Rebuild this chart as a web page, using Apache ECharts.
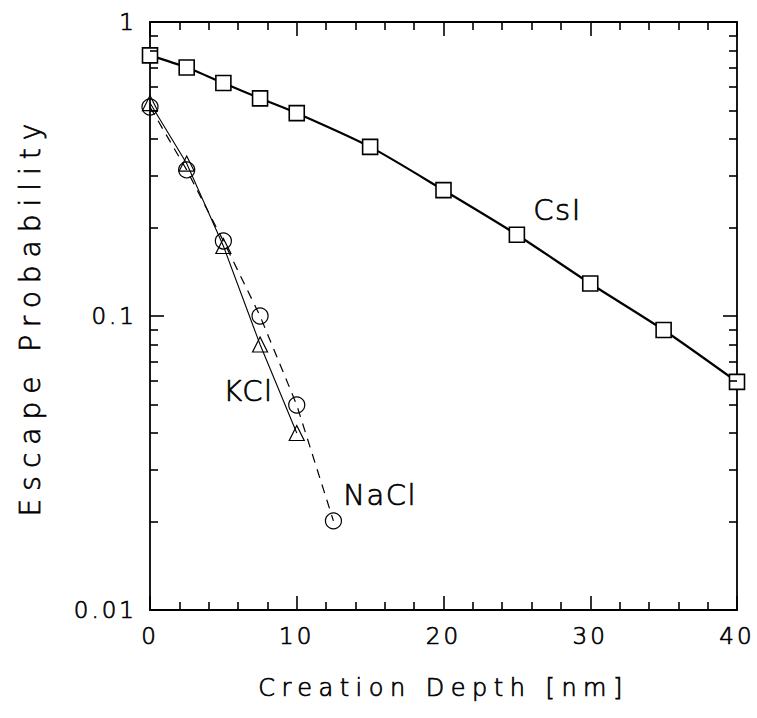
<!DOCTYPE html>
<html><head><meta charset="utf-8">
<script src="https://cdn.jsdelivr.net/npm/echarts@6/dist/echarts.min.js"></script>
<style>html,body{margin:0;padding:0;background:#fff}#c{width:757px;height:718px}</style>
</head><body><div id="c"></div>
<script>
const depthCsI = [0, 2.5, 5, 7.5, 10, 15, 20, 25, 30, 35, 40];
const probCsI = [0.77, 0.70, 0.62, 0.55, 0.49, 0.376, 0.268, 0.189, 0.129, 0.0896, 0.0597];
const depthKCl = [0, 2.5, 5, 7.5, 10];
const probKCl = [0.53, 0.33, 0.173, 0.080, 0.040];
const depthNaCl = [0, 2.5, 5, 7.5, 10, 12.5];
const probNaCl = [0.514, 0.314, 0.18, 0.10, 0.0498, 0.0201];
const xMajorTicks = [0, 10, 20, 30, 40];
const xMinorTicks = [2, 4, 6, 8, 12, 14, 16, 18, 22, 24, 26, 28, 32, 34, 36, 38];
const yMajorTicks = [0.01, 0.1, 1];
const yMinorTicks = [0.02,0.03,0.04,0.05,0.06,0.07,0.08,0.09,0.2,0.3,0.4,0.5,0.6,0.7,0.8,0.9];

const W = 757, H = 718;
const GRID = {left: 150, right: 20, top: 22, bottom: 108};
const X_MIN = 0, X_MAX = 40, Y_MIN = 0.01, Y_MAX = 1;
const pxPerX = (W - GRID.left - GRID.right) / (X_MAX - X_MIN);
const pxPerDecade = (H - GRID.top - GRID.bottom) / Math.log10(Y_MAX / Y_MIN);
const MAJOR = 14, MINOR = 8;

const FONT = 'DejaVu Sans';
const FW = 200;
const TB = {textBorderColor: '#000', textBorderWidth: 0.7};
const zip = (a, b) => a.map((v, i) => [v, b[i]]);

// tick segments in data space (lengths converted from pixels through the axis scales)
function tickSegs() {
  const segs = [];
  const addX = (vals, len) => vals.forEach(x => {
    const f = Math.pow(10, len / pxPerDecade);
    segs.push({coords: [[x, Y_MIN], [x, Y_MIN * f]]});
    segs.push({coords: [[x, Y_MAX], [x, Y_MAX / f]]});
  });
  const addY = (vals, len) => vals.forEach(v => {
    const d = len / pxPerX;
    segs.push({coords: [[X_MIN, v], [X_MIN + d, v]]});
    segs.push({coords: [[X_MAX, v], [X_MAX - d, v]]});
  });
  addX(xMajorTicks, MAJOR); addX(xMinorTicks, MINOR);
  addY(yMajorTicks, MAJOR); addY(yMinorTicks, MINOR);
  return segs;
}

const chart = echarts.init(document.getElementById('c'), null, {renderer: 'svg'});
const axisLine = {show: true, onZero: false, lineStyle: {color: '#000', width: 1.8}};

chart.setOption({
  animation: false,
  grid: Object.assign({outerBoundsMode: 'none'}, GRID),
  xAxis: [{
    type: 'value', min: X_MIN, max: X_MAX, interval: 10,
    axisLine, axisTick: {show: false}, splitLine: {show: false},
    axisLabel: Object.assign({color: '#000', fontSize: 23, fontWeight: FW, fontFamily: FONT, margin: 14}, TB),
    name: 'Creation Depth [nm]', nameLocation: 'middle', nameGap: 66,
    nameTextStyle: Object.assign({color: '#000', fontSize: 24, fontWeight: FW, fontFamily: FONT}, TB)
  }, {
    type: 'value', min: X_MIN, max: X_MAX, interval: 10, position: 'top',
    axisLine, axisTick: {show: false}, splitLine: {show: false}, axisLabel: {show: false}
  }],
  yAxis: [{
    type: 'log', min: Y_MIN, max: Y_MAX, logBase: 10,
    axisLine, axisTick: {show: false}, splitLine: {show: false},
    axisLabel: Object.assign({color: '#000', fontSize: 23, fontWeight: FW, fontFamily: FONT, margin: 13,
      formatter: v => v >= 1 ? '1' : (v >= 0.1 ? '0.1' : '0.01')}, TB),
    name: 'Escape Probability', nameLocation: 'middle', nameGap: 106,
    nameTextStyle: Object.assign({color: '#000', fontSize: 28, fontWeight: FW, fontFamily: FONT}, TB)
  }, {
    type: 'log', min: Y_MIN, max: Y_MAX, logBase: 10, position: 'right',
    axisLine, axisTick: {show: false}, splitLine: {show: false}, axisLabel: {show: false}
  }],
  series: [{
    type: 'lines', coordinateSystem: 'cartesian2d', xAxisIndex: 0, yAxisIndex: 0,
    silent: true, z: 10, polyline: false, clip: false,
    lineStyle: {color: '#000', width: 1.6, opacity: 1},
    data: tickSegs()
  }, {
    name: 'CsI', type: 'line', data: zip(depthCsI, probCsI), smooth: 0.25,
    symbol: 'rect', symbolSize: 15,
    itemStyle: {color: '#fff', borderColor: '#000', borderWidth: 1.6},
    lineStyle: {color: '#000', width: 2.2}, z: 3
  }, {
    name: 'NaCl', type: 'line', data: zip(depthNaCl, probNaCl),
    symbol: 'circle', symbolSize: 16,
    itemStyle: {color: 'rgba(255,255,255,0)', borderColor: '#000', borderWidth: 1.2},
    lineStyle: {color: '#000', width: 1.2, type: [9, 7]}, z: 4
  }, {
    name: 'KCl', type: 'line', data: zip(depthKCl, probKCl),
    symbol: 'triangle', symbolSize: 15,
    itemStyle: {color: 'rgba(255,255,255,0)', borderColor: '#000', borderWidth: 1.2},
    lineStyle: {color: '#000', width: 1.1}, z: 4
  }],
  graphic: [
    {type: 'text', left: 533, top: 195, style: {text: 'CsI', fontSize: 29, fontWeight: FW, fontFamily: FONT, fill: '#000', stroke: '#000', lineWidth: 0.7}},
    {type: 'text', left: 223, top: 376, style: {text: 'KCl', fontSize: 29, fontWeight: FW, fontFamily: FONT, fill: '#000', stroke: '#000', lineWidth: 0.7}},
    {type: 'text', left: 343, top: 480, style: {text: 'NaCl', fontSize: 29, fontWeight: FW, fontFamily: FONT, fill: '#000', stroke: '#000', lineWidth: 0.7}}
  ]
});

function spaceText() {
  const spacing = {'24px': '6.5px', '28px': '8px', '23px': '3px', '29px': '1.5px'};
  document.querySelectorAll('#c svg text').forEach(el => {
    const fs = window.getComputedStyle(el).fontSize;
    if (spacing[fs]) el.style.letterSpacing = spacing[fs];
  });
}
spaceText();
chart.on('finished', spaceText);
setTimeout(spaceText, 50);
</script></body></html>
